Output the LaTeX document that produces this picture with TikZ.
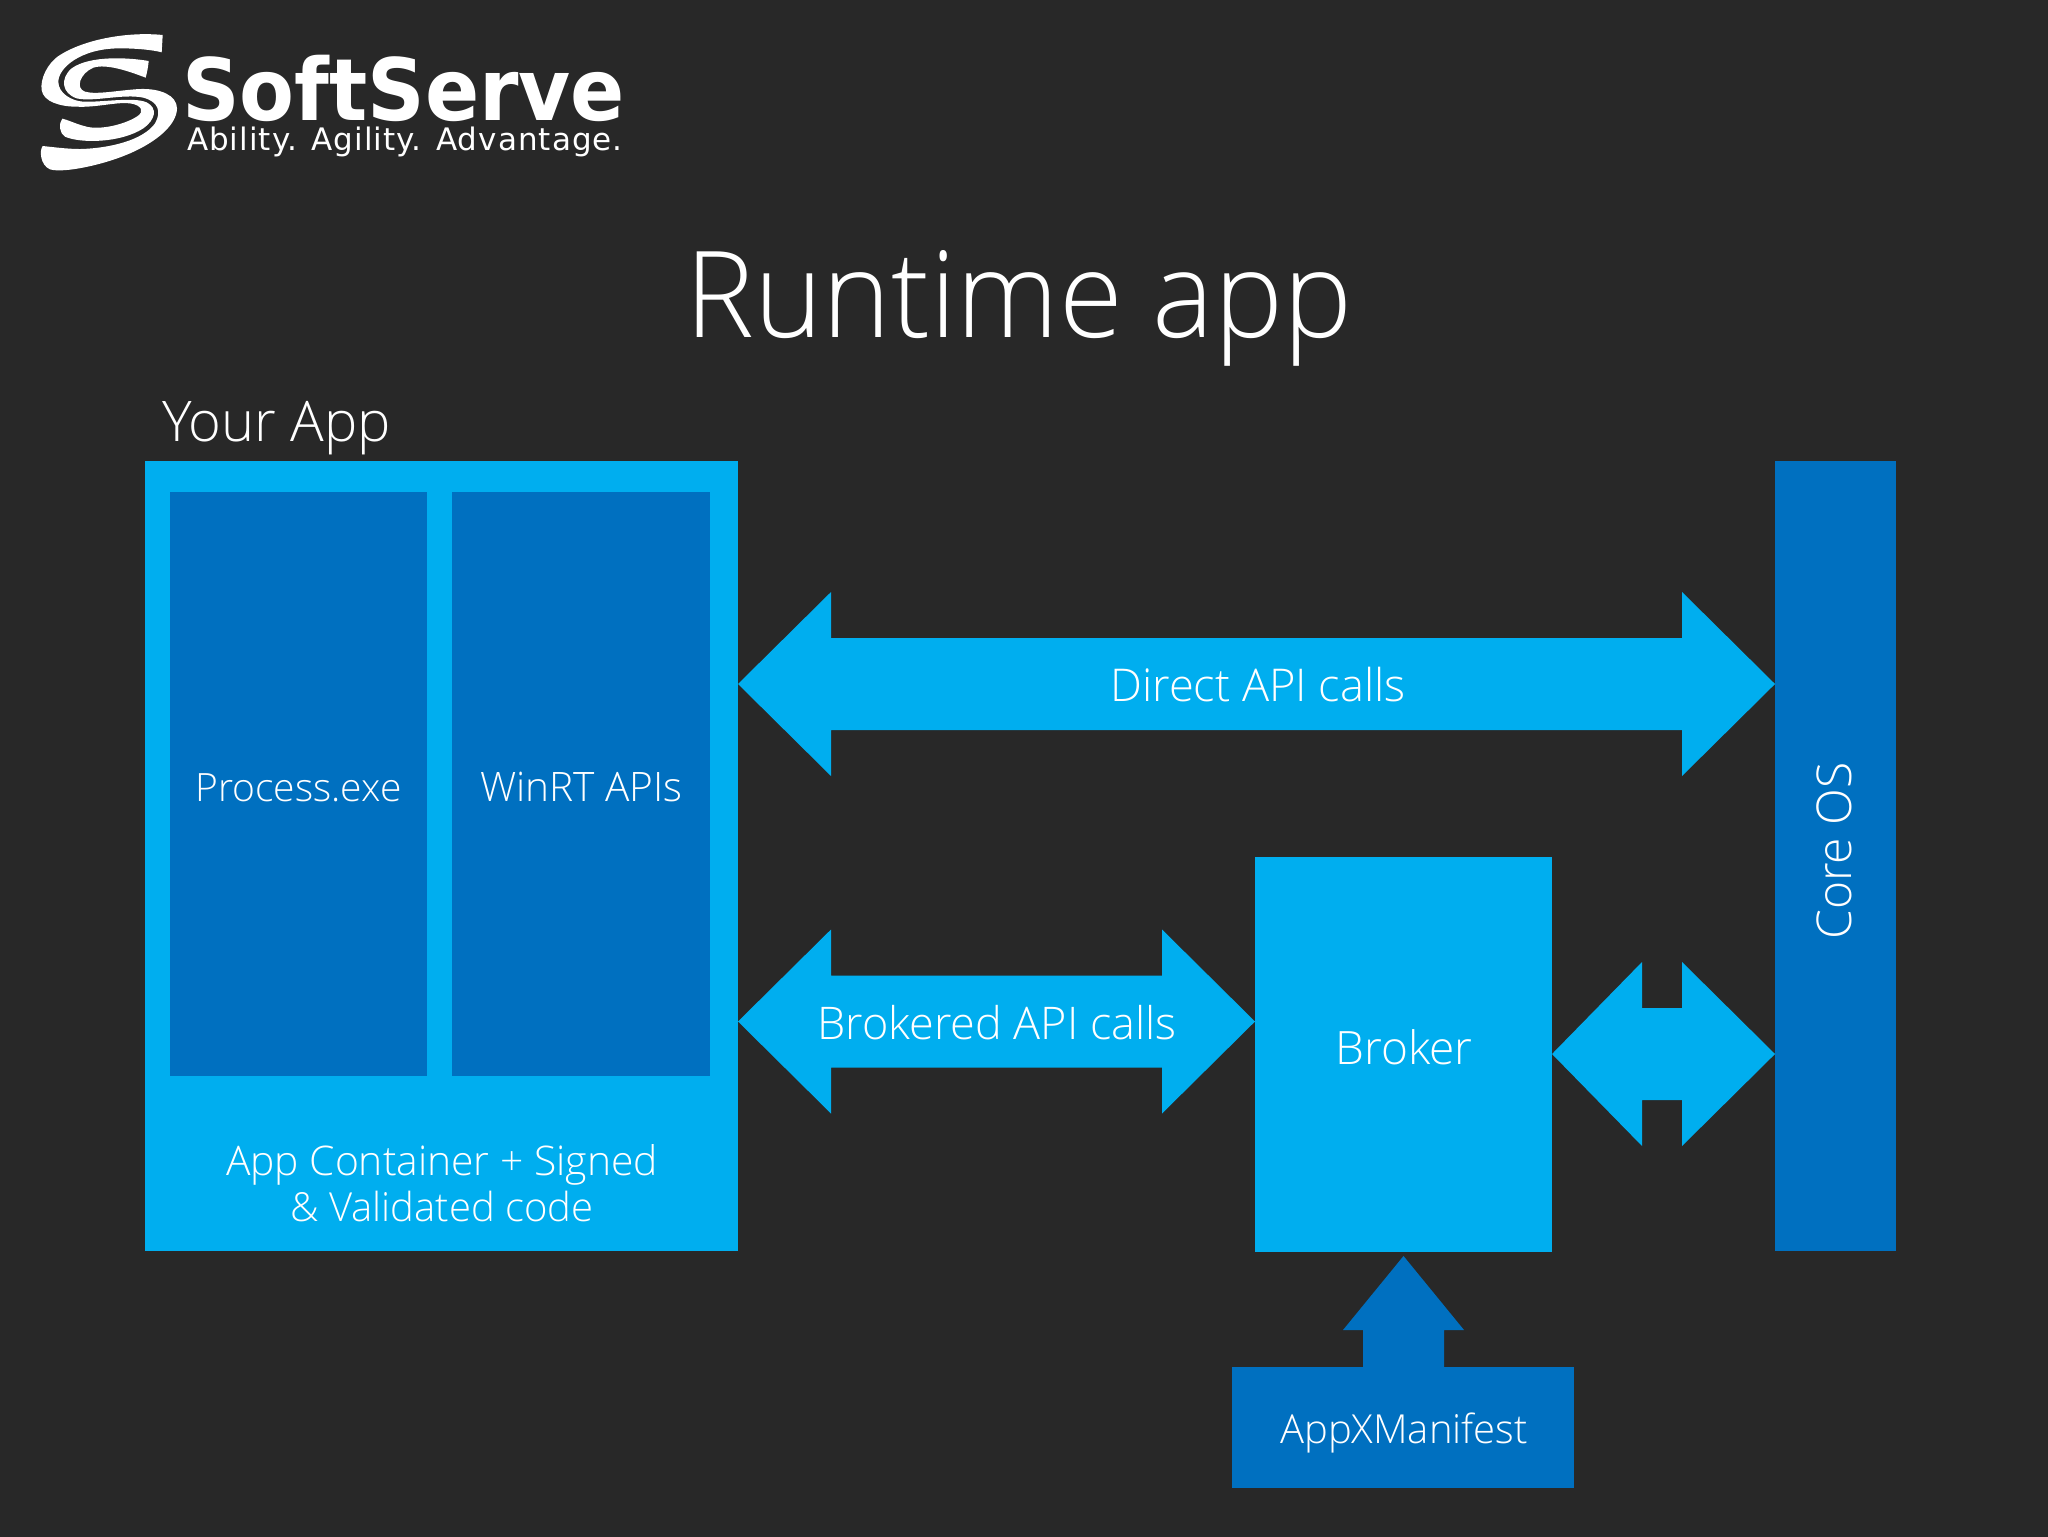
\documentclass[tikz,border=0pt]{standalone}
\usepackage{fontspec}
\usetikzlibrary{calc}
\setmainfont{Open Sans Light}
\newfontfamily\logofont{DejaVu Sans}
\newfontfamily\tagfont[LetterSpace=3.4]{DejaVu Sans}
\definecolor{bgc}{HTML}{282828}
\definecolor{lightb}{HTML}{00AEEF}
\definecolor{darkb}{HTML}{0070C0}
\tikzset{
  x=0.5pt,y=-0.5pt,
  box/.style n args={3}{rectangle,draw=none,fill=#1,inner sep=0pt,outer sep=0pt,minimum width=#2*0.5pt,minimum height=#3*0.5pt},
  lbl/.style={text=white,inner sep=0pt,outer sep=0pt,anchor=base,align=center},
  block/.style={fill=lightb,draw=none},
}
\newcommand{\lblsize}[1]{\fontsize{#1}{#1}\selectfont}
% double block arrow between two named nodes at height y; #4 = left head length
\newcommand{\twoway}[4]{%
  \coordinate (l#1#2) at (#1.east |- 0,#3);
  \coordinate (r#1#2) at (#2.west |- 0,#3);
  \fill[block] (l#1#2) -- ($(l#1#2)+(#4,-92)$) -- ($(l#1#2)+(#4,-46)$) -- ($(r#1#2)+(-93,-46)$) -- ($(r#1#2)+(-93,-92)$) -- (r#1#2)
    -- ($(r#1#2)+(-93,92)$) -- ($(r#1#2)+(-93,46)$) -- ($(l#1#2)+(#4,46)$) -- ($(l#1#2)+(#4,92)$) -- cycle;}
\begin{document}
\begin{tikzpicture}
\useasboundingbox (0,0) rectangle (2048,1536);
\fill[bgc] (-6,-6) rectangle (2054,1542);
% logo
\begin{scope}[shift={(30,25)},x=0.1667pt,y=-0.1667pt]
\fill[white] (398,30) .. controls (300,20) and (170,40) .. (90,90) .. controls (50,115) and (30,165) .. (35,195)
 .. controls (40,230) and (90,245) .. (140,245) .. controls (200,248) and (260,230) .. (300,235)
 .. controls (335,240) and (345,260) .. (320,275) .. controls (280,300) and (210,315) .. (170,305)
 .. controls (140,298) and (115,285) .. (97,281) .. controls (85,295) and (88,325) .. (105,335)
 .. controls (150,355) and (270,355) .. (340,310) .. controls (375,285) and (385,250) .. (350,232)
 .. controls (310,215) and (220,232) .. (160,230) .. controls (125,228) and (85,205) .. (85,170)
 .. controls (85,130) and (150,70) .. (270,70) .. controls (320,70) and (370,75) .. (395,82) -- cycle;
\fill[white] (356,108) .. controls (300,98) and (180,90) .. (125,130) .. controls (90,160) and (95,205) .. (140,220)
 .. controls (190,232) and (280,205) .. (340,218) .. controls (385,230) and (395,260) .. (375,295)
 .. controls (340,345) and (240,370) .. (150,372) .. controls (110,372) and (60,365) .. (38,363)
 .. controls (28,375) and (30,420) .. (60,433) .. controls (100,445) and (220,420) .. (300,385)
 .. controls (380,350) and (440,300) .. (441,250) .. controls (440,210) and (390,190) .. (330,192)
 .. controls (270,195) and (200,210) .. (165,200) .. controls (135,190) and (150,145) .. (190,128)
 .. controls (230,115) and (300,140) .. (347,158) .. controls (352,140) and (355,120) .. (356,108) -- cycle;
\end{scope}
\node[lbl,anchor=base west,xscale=0.93,transform shape] (logoname) at (182,120) {\logofont\bfseries\lblsize{43}SoftServe};
\node[lbl,anchor=base west] (logotag) at (187,150) {\tagfont\lblsize{15.5}Ability. Agility. Advantage.};
% title
\node[lbl,xscale=0.967,transform shape] (title) at (1019,337) {\lblsize{60}Runtime app};
\node[lbl,anchor=base west] (yourapp) at (162,441) {\lblsize{28}Your App};
% boxes
\node[box={lightb}{593}{790}] (app) at (441.5,856) {};
\node[box={darkb}{257}{584}] (proc) at (298.5,784) {};
\node[box={darkb}{258}{584}] (winrt) at (581,784) {};
\node[box={darkb}{121}{790}] (core) at (1835.5,856) {};
\node[box={lightb}{297}{395}] (broker) at (1403.5,1054) {};
\node[box={darkb}{342}{121}] (manifest) at (1403,1427) {};
% arrows
\twoway{app}{core}{684}{93}
\twoway{app}{broker}{1021.5}{93}
\twoway{broker}{core}{1054}{90}
\coordinate (tip) at (1403.5,1256);
\fill[darkb] ($(manifest.north -| 1363,0)+(0,1)$) -- (1363,1330) -- (1343,1330) -- (tip) -- (1464,1330) -- (1444,1330) -- ($(manifest.north -| 1444,0)+(0,1)$) -- cycle;
% labels
\node[lbl] (lproc) at (298.5,801) {\lblsize{19.5}Process.exe};
\node[lbl] (lwinrt) at (581.5,801) {\lblsize{20.3}WinRT APIs};
\node[lbl] (lapp1) at (442,1175) {\lblsize{20.4}App Container + Signed};
\node[lbl] (lapp2) at (442,1221) {\lblsize{20}\& Validated code};
\node[lbl] (ldirect) at (1258,701) {\lblsize{22.6}Direct API calls};
\node[lbl] (lbrokered) at (997,1039) {\lblsize{22.5}Brokered API calls};
\node[lbl] (lbroker) at (1404,1064) {\lblsize{23}Broker};
\node[lbl,rotate=90] (lcore) at (1851,851) {\lblsize{24}Core OS};
\node[lbl] (lman) at (1404,1443) {\lblsize{20}AppXManifest};
\end{tikzpicture}
\end{document}
